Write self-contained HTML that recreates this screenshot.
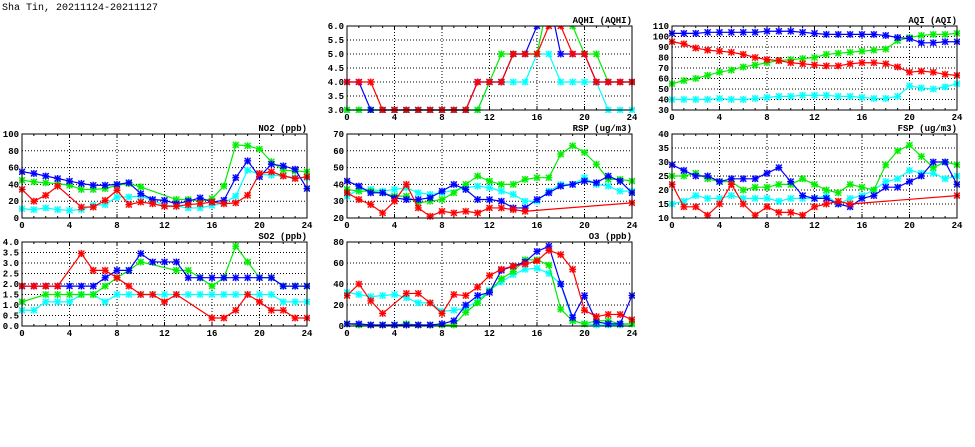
<!DOCTYPE html>
<html><head><meta charset="utf-8"><style>
body{margin:0;background:#fff;width:975px;height:447px;overflow:hidden}
svg{display:block}
text{font-family:"Liberation Mono","DejaVu Sans Mono",monospace;font-size:9px;font-weight:bold;fill:#000}
</style></head><body>
<svg id="s" width="975" height="447" xmlns="http://www.w3.org/2000/svg">
<text x="2" y="10" style="font-size:10px;font-weight:normal">Sha Tin, 20211124-20211127</text>
</svg>
<script>
const S=document.getElementById('s');const NS='http://www.w3.org/2000/svg';
function el(t,a,txt){const e=document.createElementNS(NS,t);for(const k in a)e.setAttribute(k,a[k]);if(txt!==undefined)e.textContent=txt;S.appendChild(e);return e;}
const C={c:'#00ffff',g:'#00ee00',b:'#0000ff',r:'#ff0000'};
let cid=0;
function panel(x0,y0,x1,y1,title,ymin,ymax,step,dec,series){
  cid++;
  const defs=el('defs',{});const cp=document.createElementNS(NS,'clipPath');cp.setAttribute('id','c'+cid);
  const r=document.createElementNS(NS,'rect');r.setAttribute('x',x0-3);r.setAttribute('y',y0);r.setAttribute('width',x1-x0+6);r.setAttribute('height',y1-y0+3);cp.appendChild(r);defs.appendChild(cp);
  const X=h=>x0+(x1-x0)*h/24, Y=v=>y1-(y1-y0)*(v-ymin)/(ymax-ymin);
  for(let h=4;h<24;h+=4)el('line',{x1:X(h),x2:X(h),y1:y0,y2:y1,stroke:'#000','stroke-width':1,'stroke-dasharray':'1,2'});
  for(let v=ymin+step;v<ymax-1e-9;v+=step)el('line',{x1:x0,x2:x1,y1:Y(v),y2:Y(v),stroke:'#000','stroke-width':1,'stroke-dasharray':'1,2'});
  for(let h=0;h<=24;h++){el('line',{x1:X(h),x2:X(h),y1:y1,y2:y1-(h%4?2:4),stroke:'#000'});el('line',{x1:X(h),x2:X(h),y1:y0,y2:y0+(h%4?2:4),stroke:'#000'});}
  for(let h=0;h<=24;h+=4)el('text',{x:X(h),y:y1+10,'text-anchor':'middle'},h);
  for(let v=ymin;v<=ymax+1e-9;v+=step)el('text',{x:x0-3,y:Y(v)+3,'text-anchor':'end'},v.toFixed(dec));
  el('text',{x:x1,y:y0-3,'text-anchor':'end'},title);
  for(const [k,d] of series){
    const pts=[];d.forEach((v,i)=>{if(v!==null)pts.push([X(i),Y(v)]);});
    const g=el('g',{'clip-path':'url(#c'+cid+')'});
    const pl=document.createElementNS(NS,'polyline');pl.setAttribute('points',pts.map(p=>p.join(',')).join(' '));pl.setAttribute('fill','none');pl.setAttribute('stroke',C[k]);pl.setAttribute('stroke-width',1.2);g.appendChild(pl);
    for(const [px,py] of pts){
      const q=document.createElementNS(NS,'rect');q.setAttribute('x',px-3);q.setAttribute('y',py-3);q.setAttribute('width',6);q.setAttribute('height',6);q.setAttribute('fill',C[k]);q.setAttribute('opacity',0.35);g.appendChild(q);
      const p=document.createElementNS(NS,'path');p.setAttribute('d',`M${px-3},${py-3}L${px+3},${py+3}M${px-3},${py+3}L${px+3},${py-3}M${px},${py-3.5}V${py+3.5}M${px-3.5},${py}H${px+3.5}`);p.setAttribute('stroke',C[k]);p.setAttribute('stroke-width',1.2);g.appendChild(p);
    }
  }
  el('rect',{x:x0,y:y0,width:x1-x0,height:y1-y0,fill:'none',stroke:'#000','stroke-width':1});
}
const N=null;
panel(347,26,632,110,'AQHI (AQHI)',3,6,0.5,1,[
['c',[3,3,3,3,3,3,3,3,3,3,3,3,4,4,4,4,5,5,4,4,4,4,3,3,3]],
['g',[3,3,3,3,3,3,3,3,3,3,3,3,4,5,5,5,5,7,7,6,5,5,4,4,4]],
['b',[4,4,3,3,3,3,3,3,3,3,3,4,4,4,5,5,6,7,5,5,5,4,4,4,4]],
['r',[4,4,4,3,3,3,3,3,3,3,3,4,4,4,5,5,5,6,6,5,5,4,4,4,4]]]);
panel(672,26,957,110,'AQI (AQI)',30,110,10,0,[
['c',[40,40,40,40,41,40,40,41,42,43,43,44,44,44,43,43,42,41,41,43,53,51,50,52,55]],
['g',[55,58,60,63,66,68,71,73,75,77,78,79,80,83,84,85,86,87,88,96,99,101,102,102,103]],
['b',[103,103,103,104,104,104,104,104,105,105,105,104,103,102,102,102,102,102,101,99,98,94,94,95,95]],
['r',[95,93,89,87,86,85,83,80,78,77,75,74,73,72,72,74,75,75,74,71,66,67,66,64,63]]]);
panel(22,134,307,218,'NO2 (ppb)',0,100,20,0,[
['c',[11,10,12,10,9,10,15,16,25,25,26,21,15,14,12,12,15,18,26,57,52,51,50,48,48]],
['g',[45,43,42,41,39,34,34,35,39,41,37,N,N,22,22,20,23,38,87,86,82,67,57,56,55]],
['b',[55,53,50,47,44,41,39,39,40,42,29,22,21,17,20,24,19,21,48,68,49,64,62,58,35]],
['r',[34,20,27,38,N,13,13,21,33,16,19,17,14,14,16,17,19,17,18,27,53,55,50,47,49]]]);
panel(347,134,632,218,'RSP (ug/m3)',20,70,10,0,[
['c',[33,37,37,36,37,38,35,34,35,N,38,39,38,36,34,30,30,36,40,40,44,40,39,36,36]],
['g',[37,36,36,35,33,33,29,30,31,35,40,45,42,40,40,43,44,44,58,63,59,52,43,43,42]],
['b',[42,39,35,35,32,31,31,32,36,40,37,31,31,30,26,26,31,35,39,40,42,41,45,42,35]],
['r',[35,31,28,23,30,40,26,21,24,23,24,23,26,26,25,24,N,N,N,N,N,N,N,N,29]]]);
panel(672,134,957,218,'FSP (ug/m3)',10,40,5,0,[
['c',[15,16,18,17,17,18,17,17,17,16,17,17,17,18,15,17,18,20,23,24,27,26,26,24,25]],
['g',[25,25,26,24,23,23,20,21,21,22,22,24,22,20,19,22,21,20,29,34,36,32,28,30,29]],
['b',[29,27,25,25,23,24,24,24,26,28,23,18,17,17,15,14,17,18,21,21,23,25,30,30,22]],
['r',[22,14,14,11,15,22,15,11,14,12,12,11,14,15,16,15,N,N,N,N,N,N,N,N,18]]]);
panel(22,242,307,326,'SO2 (ppb)',0,4,0.5,1,[
['c',[0.75,0.75,1.15,1.15,1.15,1.5,1.5,1.15,1.5,1.5,1.5,1.5,1.5,1.5,1.5,1.5,1.5,1.5,1.5,1.5,1.5,1.5,1.15,1.15,1.15]],
['g',[1.15,N,1.5,1.5,1.5,1.5,1.5,1.9,2.3,2.65,3.05,N,N,2.65,2.65,2.3,1.9,2.3,3.8,3.05,2.3,2.3,1.9,1.9,1.9]],
['b',[1.9,1.9,1.9,1.9,1.9,1.9,1.9,2.3,2.65,2.65,3.45,3.05,3.05,3.05,2.3,2.3,2.3,2.3,2.3,2.3,2.3,2.3,1.9,1.9,1.9]],
['r',[1.9,1.9,1.9,1.9,N,3.45,2.65,2.65,2.3,1.9,1.5,1.5,1.15,1.5,N,N,0.38,0.38,0.75,1.5,1.15,0.75,0.75,0.38,0.38]]]);
panel(347,242,632,326,'O3 (ppb)',0,80,20,0,[
['c',[32,30,28,29,30,27,22,22,14,15,17,24,34,42,49,54,55,50,40,5,2,1,1,1,2]],
['g',[2,1,1,1,1,2,1,1,1,1,13,22,33,45,52,63,63,58,16,5,2,5,5,2,2]],
['b',[2,2,1,1,1,1,1,1,2,5,20,29,32,53,57,61,71,76,40,8,29,4,2,2,29]],
['r',[29,40,24,12,N,31,31,22,12,30,29,37,48,54,57,59,62,72,68,54,15,9,11,11,6]]]);
</script>
</body></html>
